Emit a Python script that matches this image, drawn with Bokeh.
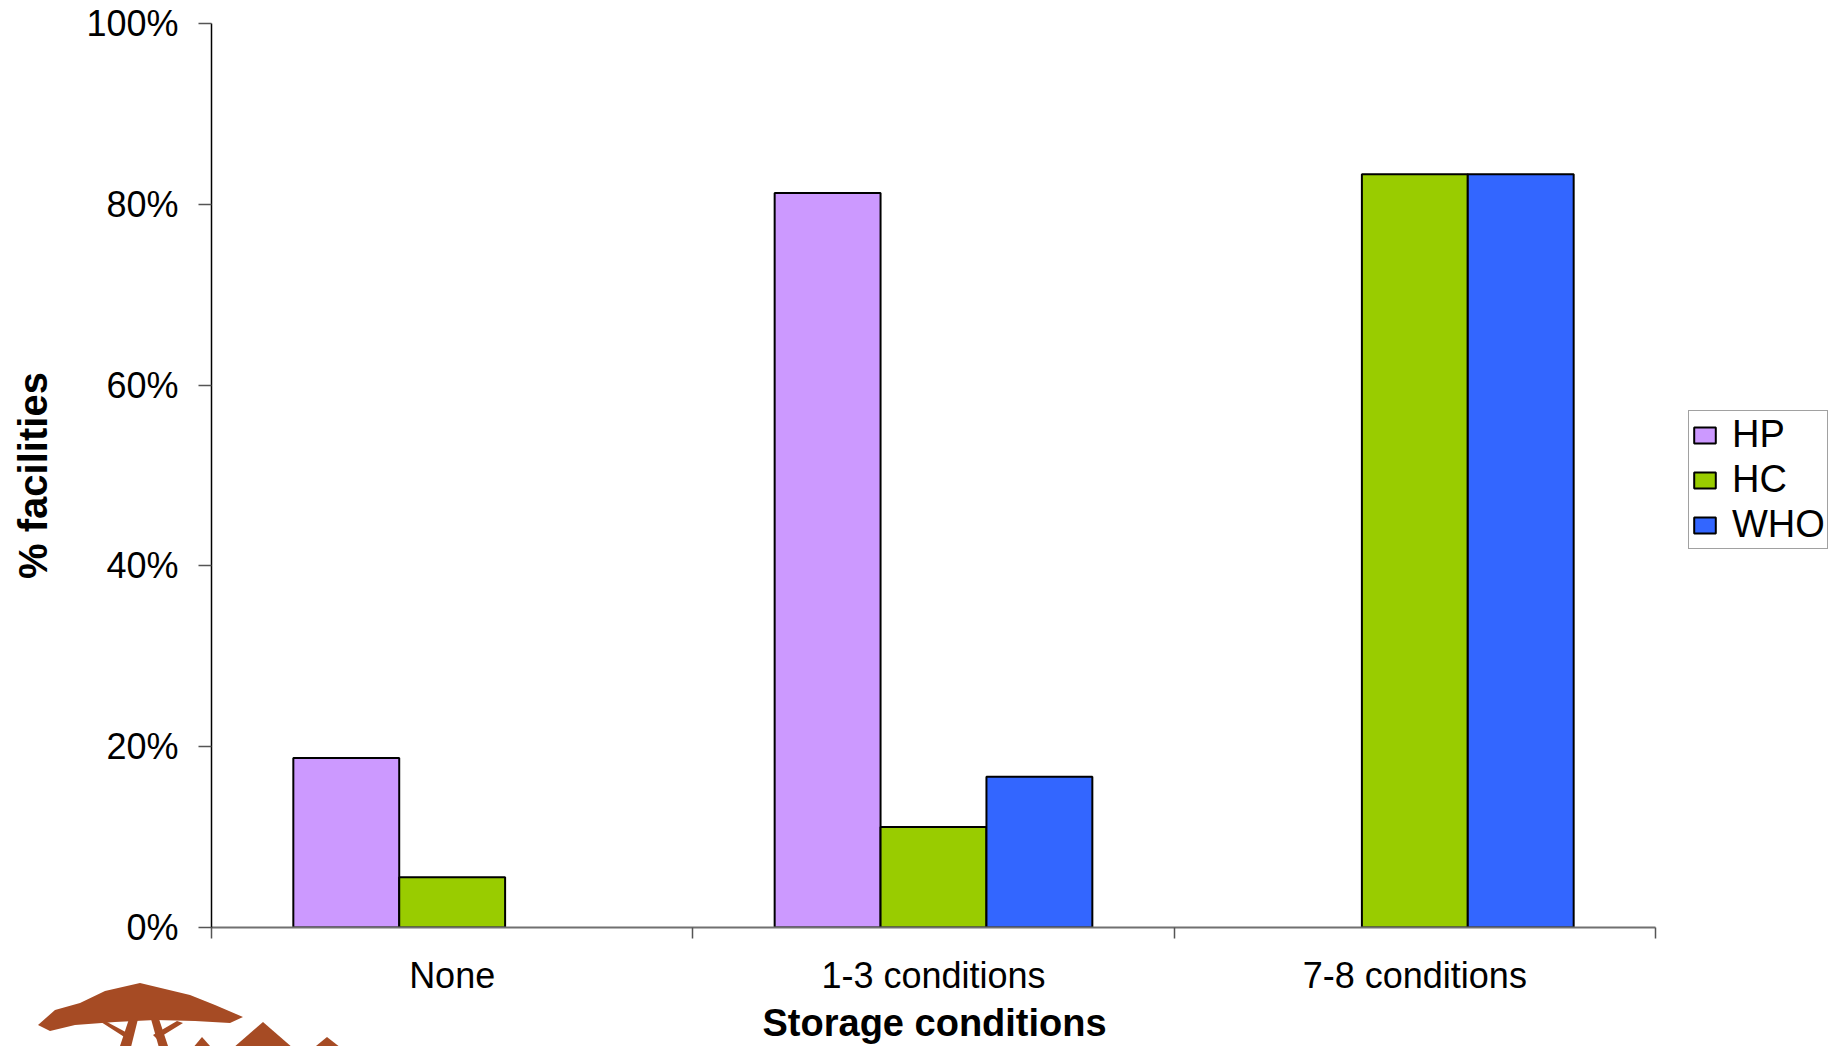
from bokeh.plotting import figure
from bokeh.models import (ColumnDataSource, Range1d, FixedTicker, PrintfTickFormatter,
                          Legend, LegendItem, GridBox, Div, Title)
from bokeh.embed import file_html
from bokeh.resources import INLINE

# Share of facilities by number of storage conditions met
categories = ["None", "1-3 conditions", "7-8 conditions"]
series = ["HP", "HC", "WHO"]
hp_values = [18.75, 81.25, 0.0]
hc_values = [5.56, 11.11, 83.33]
who_values = [0.0, 16.67, 83.33]
y_ticks = [0, 20, 40, 60, 80, 100]

colors = {"HP": "#CC99FF", "HC": "#99CC00", "WHO": "#3366FF"}
values = {"HP": hp_values, "HC": hc_values, "WHO": who_values}

FONT = "Liberation Sans"
W, H = 1829, 1046
LEFT, TOP, BOTTOM = 211, 23, 119
AXIS_PX = 1444                      # pixel length of the category axis
n_cat = len(categories)
x_end = n_cat * (W - LEFT) / AXIS_PX  # frame runs to the right edge; axis stops at n_cat

p = figure(width=W, height=H, output_backend="svg", toolbar_location=None,
           x_range=Range1d(0, x_end), y_range=Range1d(0, 100),
           min_border_left=LEFT, min_border_right=0,
           min_border_top=TOP, min_border_bottom=BOTTOM)
p.outline_line_color = None
p.xgrid.visible = False
p.ygrid.visible = False
p.background_fill_color = "white"
p.border_fill_color = "white"

bar_w = 0.22
offsets = {"HP": -bar_w, "HC": 0.0, "WHO": bar_w}
items = []
for s in series:
    xs, tops = [], []
    for i, v in enumerate(values[s]):
        if v > 0:
            xs.append(i + 0.5 + offsets[s])
            tops.append(v)
    src = ColumnDataSource(dict(x=xs, top=tops))
    r = p.vbar(x="x", top="top", width=bar_w, bottom=0, source=src,
               fill_color=colors[s], line_color="black", line_width=2)
    items.append(LegendItem(label=s, renderers=[r]))

# x axis: labels at category centres, ticks at category boundaries
xa = p.xaxis[0]
xa.bounds = (0, n_cat)
xa.ticker = FixedTicker(ticks=[i + 0.5 for i in range(n_cat)],
                        minor_ticks=list(range(n_cat + 1)))
xa.major_label_overrides = {i + 0.5: c for i, c in enumerate(categories)}
xa.major_tick_out = 0
xa.major_tick_in = 0
xa.minor_tick_out = 11
xa.minor_tick_in = 0
xa.minor_tick_line_color = "#555555"
xa.minor_tick_line_width = 1.5
xa.axis_line_color = "#707070"
xa.axis_line_width = 2
xa.major_label_text_font = FONT
xa.major_label_text_font_size = "36px"
xa.major_label_text_color = "black"
xa.major_label_standoff = 16

# x axis title, centred under the category axis (not under the wider frame)
x_title = Title(text="Storage conditions", align="left", offset=551, standoff=3,
                text_font=FONT, text_font_size="38px", text_font_style="bold",
                text_color="black")
p.add_layout(x_title, "below")

ya = p.yaxis[0]
ya.ticker = FixedTicker(ticks=y_ticks, minor_ticks=[])
ya.formatter = PrintfTickFormatter(format="%d%%")
ya.major_tick_out = 13
ya.major_tick_in = 0
ya.major_tick_line_color = "#555555"
ya.major_tick_line_width = 1.5
ya.axis_line_color = "black"
ya.axis_line_width = 1.5
ya.major_label_text_font = FONT
ya.major_label_text_font_size = "36px"
ya.major_label_text_color = "black"
ya.major_label_standoff = 20
ya.axis_label = "% facilities"
ya.axis_label_text_font = FONT
ya.axis_label_text_font_size = "40px"
ya.axis_label_text_font_style = "bold"
ya.axis_label_text_color = "black"
ya.axis_label_standoff = 28

legend = Legend(items=items, location=(1688 - LEFT, 378), orientation="vertical",
                label_text_font=FONT, label_text_font_size="38px",
                label_text_color="black", glyph_width=27, glyph_height=20,
                label_standoff=14, spacing=2, padding=2, margin=0,
                border_line_color="#444444", border_line_width=1.5,
                background_fill_color="white", background_fill_alpha=1.0)
p.add_layout(legend, "center")

# Logo in the lower-left corner (acacia tree and hills), laid over the chart
BROWN = "#A64B24"
logo_xs = [
    [33, 50, 75, 100, 135, 160, 185, 210, 238, 225, 190, 150, 110, 70, 45],
    [124, 133, 124, 112],
    [146, 154, 166, 156],
    [96, 102, 128, 124],
    [172, 178, 152, 148],
    [182, 197, 213],
    [220, 258, 296],
    [300, 322, 345],
]
logo_ys = [
    [1020, 1005, 998, 986, 978, 984, 990, 1000, 1012, 1018, 1016, 1015, 1017, 1020, 1026],
    [1014, 1014, 1050, 1050],
    [1014, 1014, 1050, 1050],
    [1017, 1017, 1031, 1035],
    [1016, 1018, 1034, 1030],
    [1050, 1032, 1050],
    [1050, 1017, 1050],
    [1050, 1032, 1050],
]
polys = "".join(
    '<polygon points="%s" fill="%s"/>' % (" ".join("%d,%d" % pt for pt in zip(xs, ys)), BROWN)
    for xs, ys in zip(logo_xs, logo_ys)
)
logo = Div(text='<svg xmlns="http://www.w3.org/2000/svg" width="%d" height="%d" '
                'style="position:absolute;left:0;top:0;pointer-events:none">%s</svg>'
                % (W, H, polys),
           width=W, height=H, styles={"pointer-events": "none"})

page = GridBox(children=[(p, 0, 0), (logo, 0, 0)])
open("out.html", "w").write(file_html(page, INLINE))
